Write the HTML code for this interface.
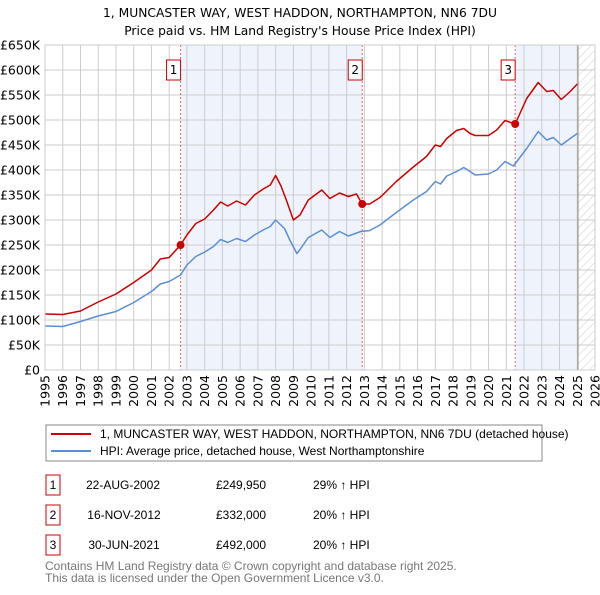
<!DOCTYPE html>
<html><head><meta charset="utf-8"><style>
body{margin:0;background:#fff;font-family:"Liberation Sans","DejaVu Sans",sans-serif;}
svg text{font-family:"DejaVu Sans","Liberation Sans",sans-serif;}
svg text.ls{font-family:"Liberation Sans","DejaVu Sans",sans-serif;}
</style></head><body>
<svg id="chart" width="600" height="590" viewBox="0 0 600 590" xmlns="http://www.w3.org/2000/svg">
<defs><pattern id="hatch" width="6" height="6" patternUnits="userSpaceOnUse" patternTransform="rotate(45)"><line x1="0" y1="0" x2="0" y2="6" stroke="#ccc" stroke-width="1"/></pattern></defs>
<text x="300" y="17" text-anchor="middle" font-size="12.3" fill="#000">1, MUNCASTER WAY, WEST HADDON, NORTHAMPTON, NN6 7DU</text>
<text x="300" y="35" text-anchor="middle" font-size="12.3" fill="#000">Price paid vs. HM Land Registry's House Price Index (HPI)</text>
<g id="plot"></g>
<g>
<rect x="46" y="425" width="496" height="36" fill="#fff" stroke="#888"/>
<line x1="51" y1="434" x2="91" y2="434" stroke="#cc0000" stroke-width="2"/>
<text class="ls" x="100" y="438" font-size="12">1, MUNCASTER WAY, WEST HADDON, NORTHAMPTON, NN6 7DU (detached house)</text>
<line x1="51" y1="451" x2="91" y2="451" stroke="#5b8fd4" stroke-width="2"/>
<text class="ls" x="100" y="455" font-size="12">HPI: Average price, detached house, West Northamptonshire</text>
</g>
<g font-size="12">
<rect x="46" y="475" width="14" height="20" fill="#fff" stroke="#cc0000"/><text class="ls" x="53" y="489" text-anchor="middle">1</text>
<text class="ls" x="123" y="489" text-anchor="middle">22-AUG-2002</text>
<text class="ls" x="216" y="489">£249,950</text>
<text class="ls" x="313" y="489">29% ↑ HPI</text>
<rect x="46" y="505" width="14" height="20" fill="#fff" stroke="#cc0000"/><text class="ls" x="53" y="519" text-anchor="middle">2</text>
<text class="ls" x="124" y="519" text-anchor="middle">16-NOV-2012</text>
<text class="ls" x="216" y="519">£332,000</text>
<text class="ls" x="313" y="519">20% ↑ HPI</text>
<rect x="46" y="535" width="14" height="20" fill="#fff" stroke="#cc0000"/><text class="ls" x="53" y="549" text-anchor="middle">3</text>
<text class="ls" x="124" y="549" text-anchor="middle">30-JUN-2021</text>
<text class="ls" x="216" y="549">£492,000</text>
<text class="ls" x="313" y="549">20% ↑ HPI</text>
</g>
<text class="ls" x="45" y="570" font-size="12" fill="#777">Contains HM Land Registry data © Crown copyright and database right 2025.</text>
<text class="ls" x="45" y="582" font-size="12" fill="#777">This data is licensed under the Open Government Licence v3.0.</text>
</svg>
<script>
const propYears=[1995,1996,1997,1998,1999,2000,2001,2001.5,2002,2002.64,2003,2003.5,2004,2004.5,2004.9,2005.3,2005.8,2006.3,2006.8,2007.3,2007.7,2008,2008.3,2008.6,2009,2009.37,2009.84,2010.6,2011.06,2011.6,2012.1,2012.56,2012.88,2013.3,2013.88,2014.8,2015.76,2016.5,2017,2017.3,2017.64,2018.2,2018.6,2018.96,2019.24,2020,2020.46,2020.93,2021.5,2022.15,2022.8,2023.28,2023.65,2024.1,2024.6,2025.0];
const propValues=[112,111,118,136,152,175,200,222,225,250,270,293,302,320,336,328,338,330,350,362,370,389,368,340,300,310,340,360,343,354,347,352,332,332,345,377,406,427,450,447,463,479,483,473,469,469,480,499,492,543,575,557,559,541,557,572];
const hpiYears=[1995,1996,1997,1998,1999,2000,2001,2001.5,2002,2002.64,2003,2003.5,2004,2004.5,2004.9,2005.3,2005.8,2006.3,2006.8,2007.3,2007.7,2008,2008.5,2008.8,2009.2,2009.37,2009.84,2010.6,2011.06,2011.6,2012.1,2012.8,2013.3,2013.88,2014.8,2015.76,2016.5,2017,2017.3,2017.64,2018.2,2018.6,2018.96,2019.24,2020,2020.46,2020.93,2021.4,2022.15,2022.8,2023.28,2023.65,2024.1,2024.6,2025.0];
const hpiValues=[88,87,97,108,117,135,157,172,177,190,210,227,236,247,261,255,263,257,270,280,287,300,283,260,233,241,265,280,265,277,268,277,279,290,315,340,357,377,372,388,397,405,397,390,392,400,417,408,443,477,460,465,450,463,473];
const saleYears=[2002.64,2012.88,2021.5];
const saleValues=[249.95,332,492];
const saleLabels=["1","2","3"];
const yTicks=[0,50,100,150,200,250,300,350,400,450,500,550,600,650];
const yTickLabels=["£0","£50K","£100K","£150K","£200K","£250K","£300K","£350K","£400K","£450K","£500K","£550K","£600K","£650K"];
const xTicks=[1995,1996,1997,1998,1999,2000,2001,2002,2003,2004,2005,2006,2007,2008,2009,2010,2011,2012,2013,2014,2015,2016,2017,2018,2019,2020,2021,2022,2023,2024,2025,2026];
const dataEnd=2025.04;

const L=45,R=595,T=45,B=370,X0=1995,X1=2026,YMAX=650;
const sx=v=>L+(v-X0)/(X1-X0)*(R-L);
const sy=v=>B-v/YMAX*(B-T);
const NS="http://www.w3.org/2000/svg";
const g=document.getElementById('plot');
function mk(tag,attrs,parent){const e=document.createElementNS(NS,tag);for(const k in attrs)e.setAttribute(k,attrs[k]);(parent||g).appendChild(e);return e;}

let r=mk('rect',{x:L,y:T,width:R-L,height:B-T,fill:'#fff'});


r=mk('rect',{x:sx(saleYears[0]),y:T,width:sx(saleYears[1])-sx(saleYears[0]),height:B-T,fill:'#eef3fc'});


r=mk('rect',{x:sx(saleYears[2]),y:T,width:sx(dataEnd)-sx(saleYears[2]),height:B-T,fill:'#eef3fc'});


r=mk('rect',{x:sx(dataEnd),y:T,width:R-sx(dataEnd),height:B-T,fill:'url(#hatch)'});



yTicks.forEach((v,i)=>{
  const l=mk('line',{x1:L,x2:R,y1:sy(v),y2:sy(v),stroke:'#ccc','stroke-width':1});
  
  
  const t=mk('text',{x:40,y:sy(v)+4.5,'text-anchor':'end','font-size':12.5,fill:'#000'});
  
  
  t.textContent=yTickLabels[i];
});
xTicks.forEach(v=>{
  const l=mk('line',{x1:sx(v),x2:sx(v),y1:T,y2:B,stroke:'#ccc','stroke-width':1});
  
  
  const t=mk('text',{x:0,y:0,'text-anchor':'end','font-size':12.5,fill:'#000',transform:`translate(${sx(v)+4.5},375) rotate(-90)`});
  
  
  t.textContent=v;
});
let el=mk('line',{x1:sx(dataEnd),x2:sx(dataEnd),y1:T,y2:B,stroke:'#999','stroke-width':1.2});



saleYears.forEach((yr,i)=>{
  const l=mk('line',{x1:sx(yr),x2:sx(yr),y1:T,y2:B,stroke:'#e06666','stroke-width':1,'stroke-dasharray':'2,2'});
  
  
  const b=mk('rect',{x:sx(yr)-14,y:60,width:14,height:20,fill:'#fff',stroke:'#cc0000'});
  
  
  const t=mk('text',{x:sx(yr)-7,y:74,'text-anchor':'middle','font-size':12});
  
  
  t.textContent=saleLabels[i];
});

const path=(xs,ys)=>xs.map((x,i)=>(i?'L':'M')+sx(x).toFixed(1)+','+sy(ys[i]).toFixed(1)).join('');
el=mk('path',{d:path(hpiYears,hpiValues),fill:'none',stroke:'#5b8fd4','stroke-width':1.5,'stroke-linejoin':'round'});


el=mk('path',{d:path(propYears,propValues),fill:'none',stroke:'#cc0000','stroke-width':1.5,'stroke-linejoin':'round'});


saleYears.forEach((yr,i)=>{
  const c=mk('circle',{cx:sx(yr),cy:sy(saleValues[i]),r:4,fill:'#cc0000'});
  
  
});
el=mk('rect',{x:L,y:T,width:R-L,height:B-T,fill:'none',stroke:'#ccc'});


</script>
</body></html>
